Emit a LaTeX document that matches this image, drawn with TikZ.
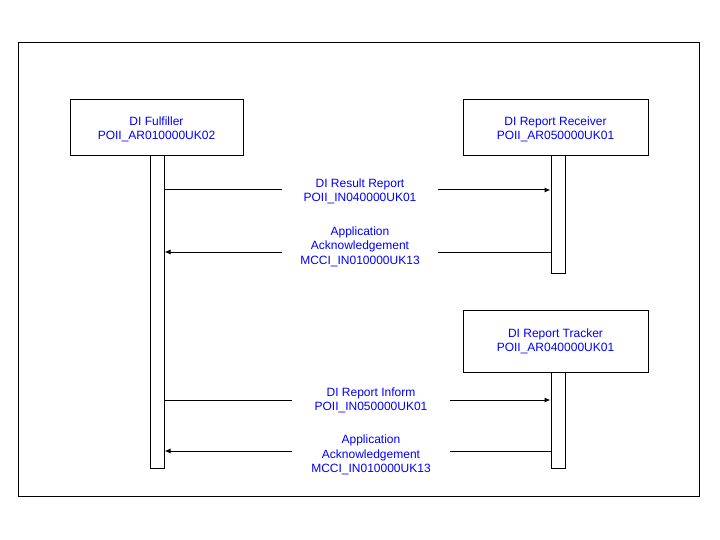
\documentclass[tikz,border=0pt]{standalone}
\usepackage{fontspec}
\setmainfont{Liberation Sans}
\usetikzlibrary{arrows.meta}
\definecolor{txtblue}{RGB}{0,0,255}
\tikzset{
  every picture/.style={x=1pt,y=-1pt},
  role/.style={draw=black,line width=1pt,fill=white,minimum width=#1,inner sep=0pt},
  bar/.style={draw=black,line width=1pt,fill=white,minimum width=14pt,inner sep=0pt},
  msg/.style={align=center,text=txtblue,font=\fontsize{12pt}{14.5pt}\selectfont,inner sep=0pt,minimum width=#1},
  conn/.style={draw=black,line width=1pt},
  tip/.style={-{Latex[length=6pt,width=5pt]}}
}
\begin{document}
\begin{tikzpicture}
\useasboundingbox (0,0) rectangle (720,540);
\draw[line width=1pt] (18,43) rectangle (699,496);
% lifeline bars
\node[bar,minimum height=312pt] (bar1) at (157,312) {};
\node[bar,minimum height=117pt] (bar2) at (558,214.5) {};
\node[bar,minimum height=96pt] (bar3) at (558,420) {};
% role boxes
\node[role=173pt,minimum height=56pt] (r1) at (156.5,128) {};
\node[role=185pt,minimum height=56pt] (r2) at (555.5,128) {};
\node[role=185pt,minimum height=62pt] (r3) at (555.5,341) {};
\node[msg=0pt] (t1) at ([yshift=-1.5pt]r1.center) {DI Fulfiller\\POII\_AR010000UK02};
\node[msg=0pt] (t2) at ([yshift=-1.5pt]r2.center) {DI Report Receiver\\POII\_AR050000UK01};
\node[msg=0pt] (t3) at ([yshift=-0.5pt]r3.center) {DI Report Tracker\\POII\_AR040000UK01};
% messages
\coordinate (y1) at (0,190);
\coordinate (y2) at (0,252);
\coordinate (y3) at (0,400);
\coordinate (y4) at (0,451);
\node[msg=156pt] (m1) at (360,191.5) {DI Result Report\\POII\_IN040000UK01};
\node[msg=156pt] (m2) at (360,246.5) {Application\\Acknowledgement\\MCCI\_IN010000UK13};
\node[msg=158pt] (m3) at (371,400.5) {DI Report Inform\\POII\_IN050000UK01};
\node[msg=158pt] (m4) at (371,455) {Application\\Acknowledgement\\MCCI\_IN010000UK13};
\draw[conn] (bar1.east |- y1) -- (m1.west |- y1);
\draw[conn,tip] (m1.east |- y1) -- (bar2.west |- y1);
\draw[conn] (bar2.west |- y2) -- (m2.east |- y2);
\draw[conn,tip] (m2.west |- y2) -- (bar1.east |- y2);
\draw[conn] (bar1.east |- y3) -- (m3.west |- y3);
\draw[conn,tip] (m3.east |- y3) -- (bar3.west |- y3);
\draw[conn] (bar3.west |- y4) -- (m4.east |- y4);
\draw[conn,tip] (m4.west |- y4) -- (bar1.east |- y4);
\end{tikzpicture}
\end{document}
